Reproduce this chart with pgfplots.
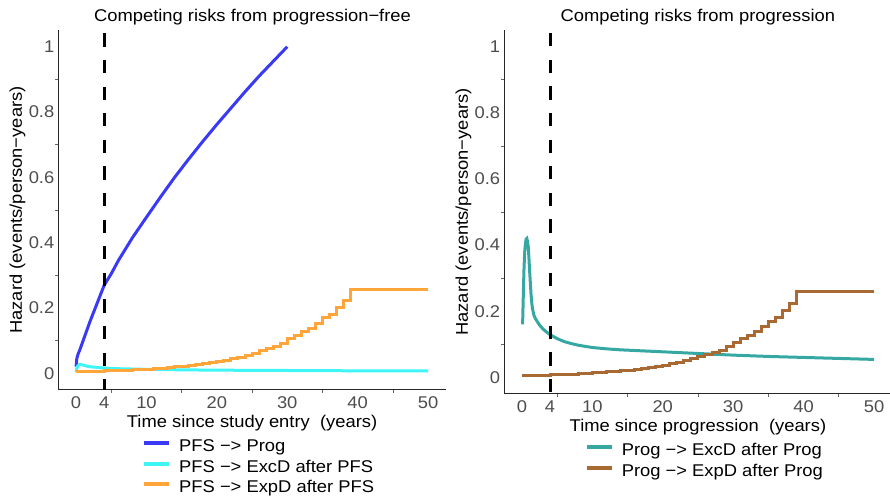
\documentclass[border=0pt]{standalone}
\usepackage{fontspec}
\setmainfont{Liberation Sans}[FakeStretch=1.08]
\usepackage{pgfplots}
\pgfplotsset{compat=1.18}
\definecolor{cblue}{HTML}{3A3AF5}
\definecolor{ccyan}{HTML}{40F5F5}
\definecolor{corange}{HTML}{FFA53A}
\definecolor{cteal}{HTML}{36A8A3}
\definecolor{cbrown}{HTML}{A86A32}
\definecolor{tickgray}{HTML}{4D4D4D}
\newcommand{\ff}{\fontsize{17bp}{20bp}\selectfont}

\pgfplotsset{
  hazstyle/.style={
    scale only axis,
    anchor=south west,
    xmin=-2.5,xmax=52.5,ymin=-0.05,ymax=1.05,
    axis x line=bottom, axis y line=left,
    axis line style={-, line width=0.8bp, color=black!85},
    xtick={0,4,10,20,30,40,50},
    ytick={0,0.2,0.4,0.6,0.8,1},
    yticklabels={0,0.2,0.4,0.6,0.8,1},
    minor xtick={5,15,25,35,45},
    minor ytick={0.1,0.3,0.5,0.7,0.9},
    major tick length=0pt, minor tick length=3bp,
    tick align=outside,
    minor tick style={line width=0.6bp,color=black!60},
    font=\ff,
    /pgf/number format/assume math mode=true,
    ticklabel style={text=tickgray, inner sep=0pt, font=\ff},
    xticklabel style={yshift=-7bp},
    yticklabel style={xshift=-4bp},
    xlabel style={at={(axis description cs:0.5,0)},anchor=base,yshift=-37.5bp,font=\ff},
    ylabel style={at={(axis description cs:0,0.5)},anchor=base,yshift=36.5bp,font=\ff},
    ylabel={Hazard (events/person−years)},
    legend cell align=left,
    legend image code/.code={\draw[line width=4bp] (0bp,4.5bp) -- (25bp,4.5bp);},
    legend style={draw=none, fill=none, inner sep=0pt, column sep=8.3bp,
      nodes={inner sep=0pt, text height=12bp, text depth=4bp, font=\ff}},
    every axis plot/.append style={line width=3bp, line cap=butt},
  }
}

\begin{document}
\begin{tikzpicture}
\useasboundingbox (0,0) rectangle (890bp,497bp);

\begin{axis}[hazstyle,
  at={(58.5bp,107.4bp)}, width=387.1bp, height=359.2bp,
  xlabel={Time since study entry\ \ (years)},
  legend style={at={(axis description cs:0.215,-0.1395)}, anchor=north west, row sep=4.5bp},
]
\addplot[cblue] coordinates {(0,0.02)(0.1,0.045)(0.3,0.06)(0.5,0.07)(1,0.10)(1.5,0.13)(2,0.16)(3,0.215)(4,0.27)(5,0.305)(6,0.345)(8,0.415)(10,0.478)(12,0.54)(14,0.60)(16,0.656)(18,0.71)(20,0.762)(22,0.812)(24,0.862)(26,0.91)(28,0.955)(30,1.0)};
\addlegendentry{PFS −> Prog}
\addplot[ccyan] coordinates {(0,0.003)(0.1,0.015)(0.2,0.021)(0.4,0.026)(0.6,0.027)(0.8,0.026)(1,0.025)(1.5,0.022)(2,0.020)(3,0.018)(4,0.016)(6,0.014)(8,0.013)(10,0.012)(15,0.0105)(20,0.0095)(30,0.0085)(40,0.0075)(50,0.007)};
\addlegendentry{PFS −> ExcD after PFS}
\addplot[corange, const plot] coordinates {(0,0.0047)(1,0.0052)(2,0.0058)(3,0.0064)(4,0.0071)(5,0.0078)(6,0.0087)(7,0.0096)(8,0.0106)(9,0.0118)(10,0.0130)(11,0.0144)(12,0.0160)(13,0.0177)(14,0.0196)(15,0.0217)(16,0.0240)(17,0.0266)(18,0.0294)(19,0.0326)(20,0.0361)(21,0.0405)(22,0.0450)(23,0.0495)(24,0.0555)(25,0.0620)(26,0.0690)(27,0.0760)(28,0.0820)(29,0.0920)(30,0.1050)(31,0.1170)(32,0.1270)(33,0.1370)(34,0.1530)(35,0.1700)(36,0.1800)(37,0.2020)(38,0.2240)(39,0.2580)(50,0.2580)};
\addlegendentry{PFS −> ExpD after PFS}
\addplot[black, forget plot, dash pattern=on 13.3bp off 13.3bp] coordinates {(4,1.041)(4,-0.05)};
\end{axis}

\begin{axis}[hazstyle,
  at={(504.3bp,103.2bp)}, width=387.3bp, height=363.6bp,
  xlabel={Time since progression\ \ (years)},
  legend style={at={(axis description cs:0.2066,-0.1353)}, anchor=north west, row sep=5.5bp},
]
\addplot[cteal] coordinates {(0.1,0.16)(0.2,0.25)(0.3,0.33)(0.4,0.38)(0.5,0.405)(0.6,0.418)(0.7,0.42)(0.8,0.41)(0.9,0.395)(1.0,0.36)(1.1,0.32)(1.2,0.285)(1.3,0.25)(1.4,0.225)(1.5,0.208)(1.7,0.188)(1.9,0.178)(2.2,0.168)(2.5,0.158)(3,0.146)(3.5,0.137)(4,0.129)(5,0.117)(6,0.108)(7,0.102)(8,0.097)(10,0.090)(12,0.086)(14,0.083)(17,0.080)(20,0.077)(25,0.072)(30,0.067)(35,0.063)(40,0.060)(45,0.057)(50,0.054)};
\addlegendentry{Prog −> ExcD after Prog}
\addplot[cbrown, const plot] coordinates {(0,0.0047)(1,0.0052)(2,0.0058)(3,0.0064)(4,0.0071)(5,0.0078)(6,0.0087)(7,0.0096)(8,0.0106)(9,0.0118)(10,0.0130)(11,0.0144)(12,0.0160)(13,0.0177)(14,0.0196)(15,0.0217)(16,0.0240)(17,0.0266)(18,0.0294)(19,0.0326)(20,0.0361)(21,0.0405)(22,0.0450)(23,0.0495)(24,0.0555)(25,0.0620)(26,0.0690)(27,0.0760)(28,0.0820)(29,0.0920)(30,0.1050)(31,0.1170)(32,0.1270)(33,0.1370)(34,0.1530)(35,0.1700)(36,0.1800)(37,0.2020)(38,0.2240)(39,0.2580)(50,0.2580)};
\addlegendentry{Prog −> ExpD after Prog}
\addplot[black, forget plot, dash pattern=on 13.3bp off 13.3bp] coordinates {(4,1.041)(4,-0.05)};
\end{axis}

\node[anchor=base, font=\ff] at (252.5bp,475bp) {Competing risks from progression−free};
\node[anchor=base, font=\ff] at (697.8bp,475bp) {Competing risks from progression};
\end{tikzpicture}
\end{document}
